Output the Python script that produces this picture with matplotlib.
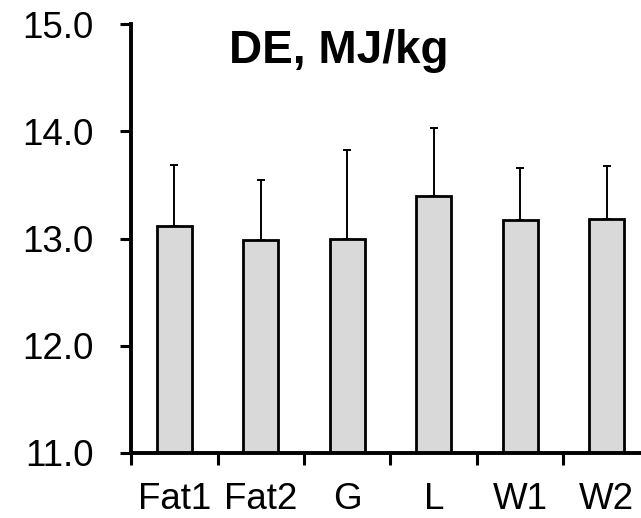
import matplotlib
matplotlib.use("Agg")
import matplotlib.pyplot as plt
import numpy as np

# diet groups, mean DE and SD (upper error only)
groups = ['Fat1', 'Fat2', 'G', 'L', 'W1', 'W2']
de_mean = [13.12, 12.99, 13.00, 13.40, 13.17, 13.18]
de_sd = [0.57, 0.56, 0.83, 0.63, 0.49, 0.50]

plt.rcParams['font.family'] = ['Liberation Sans', 'DejaVu Sans']

fig = plt.figure(figsize=(6.41, 5.18), dpi=100)
# axes runs a bit past the right edge, like the original
ax = fig.add_axes([131 / 641, 65.3 / 518, 519 / 641, 428.4 / 518])

x = np.arange(len(groups))
ax.bar(x, np.array(de_mean) - 11.0, bottom=11.0, width=0.41, color='#d9d9d9',
       edgecolor='black', linewidth=2.0, zorder=2)
ax.errorbar(x, de_mean, yerr=[np.zeros(len(groups)), de_sd], fmt='none',
            ecolor='black', elinewidth=1.4, capsize=3, capthick=1.4, zorder=1)

ax.set_xlim(-0.5, 5.5)
ax.set_ylim(11.0, 15.0)
ax.set_yticks([11, 12, 13, 14, 15])
ax.set_yticklabels(['11.0', '12.0', '13.0', '14.0', '15.0'])

# labels at bar centres, tick marks between bars
ax.set_xticks(x)
ax.set_xticklabels(groups)
ax.set_xticks(x - 0.5, minor=True)
ax.tick_params(axis='x', which='major', length=0, pad=21, labelsize=26.5)
ax.tick_params(axis='x', which='minor', length=8.5, width=2.2, direction='out')
ax.tick_params(axis='y', length=8, width=2.2, pad=19, labelsize=26.5, direction='out')

for s in ['top', 'right']:
    ax.spines[s].set_visible(False)
for s in ['left', 'bottom']:
    ax.spines[s].set_linewidth(2.8)

ax.text(339, 518 - 51, 'DE, MJ/kg', transform=None, fontsize=33,
        fontweight='bold', ha='center', va='center')

fig.savefig('out.png', dpi=100)
